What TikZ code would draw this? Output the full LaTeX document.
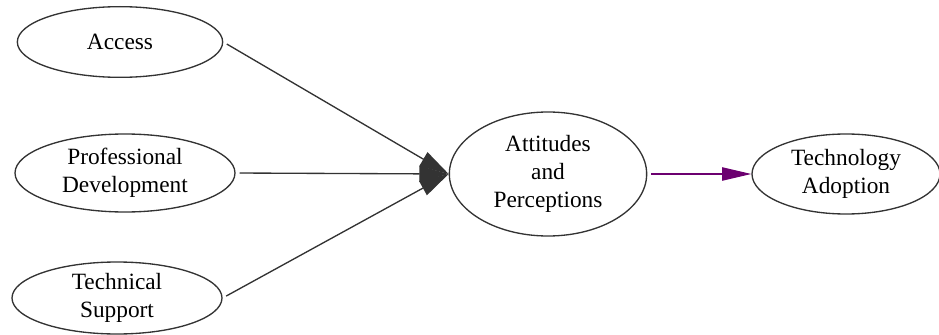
\documentclass[tikz,border=0pt]{standalone}
\usepackage{fontspec}
\setmainfont{Liberation Serif}
\usetikzlibrary{arrows.meta,shapes.geometric}
\definecolor{inkgray}{RGB}{51,51,51}
\definecolor{pathpurple}{RGB}{108,0,112}
\tikzset{
  arrow/.style={-{Triangle[length=22pt, width=12pt]}, line width=1pt, draw=#1, fill=#1, shorten <=3pt},
  construct/.style={ellipse, draw=inkgray, line width=1pt, inner sep=0pt, align=center, font=\fontsize{17.5}{21}\selectfont}
}

\begin{document}
\begin{tikzpicture}[x=0.75pt,y=-0.75pt]
  \useasboundingbox (0,0) rectangle (939,335);
  % Antecedents on the left.
  \node[construct, minimum width=154pt, minimum height=53pt] (access) at (120,42) {Access};
  \node[construct, minimum width=165pt, minimum height=58.5pt] (profdev) at (125,173) {Professional\\Development};
  \node[construct, minimum width=157.5pt, minimum height=54pt] (techsup) at (117,298) {Technical\\Support};

  % Mediator and outcome.
  \node[construct, minimum width=148pt, minimum height=93pt] (attitudes) at (548,174) {Attitudes\\and\\Perceptions};
  \node[construct, minimum width=141pt, minimum height=60pt] (adoption) at (846,174) {Technology\\Adoption};

  \draw[arrow=inkgray] (access.east) -- (attitudes.west);
  \draw[arrow=inkgray] (profdev.east) -- (attitudes.west);
  \draw[arrow=inkgray] (techsup.east) -- (attitudes.west);
  \draw[arrow=pathpurple, -{Triangle[length=22pt, width=10pt]}] (attitudes.east) -- (adoption.west);
\end{tikzpicture}
\end{document}
